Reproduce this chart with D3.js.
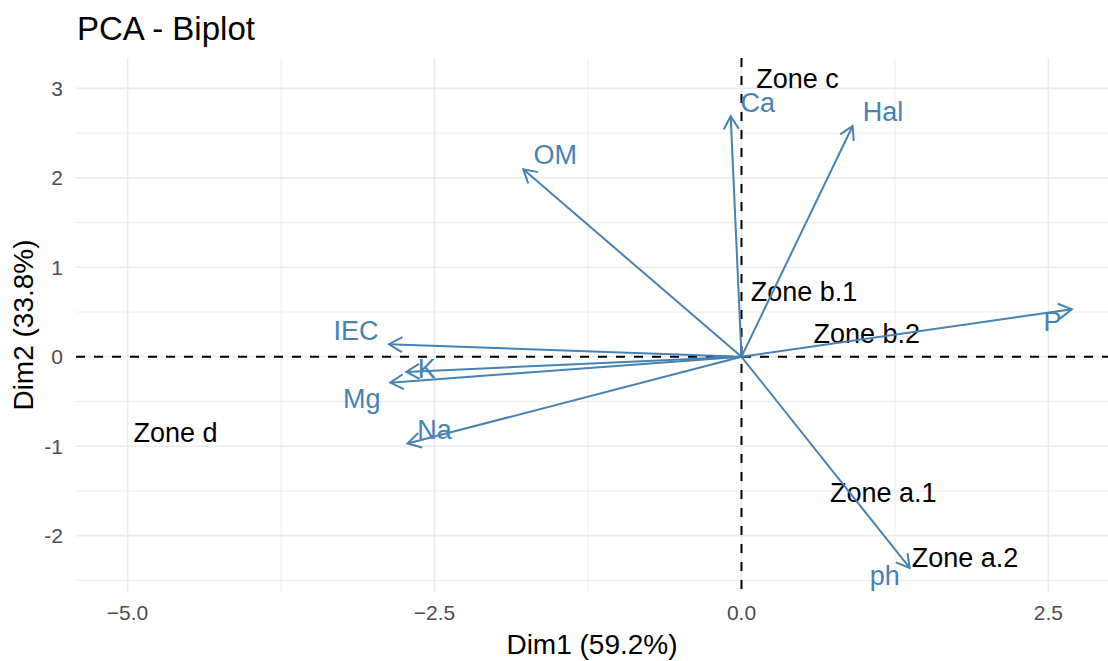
<!DOCTYPE html>
<html>
<head>
<meta charset="utf-8">
<script src="https://cdn.jsdelivr.net/npm/d3@7"></script>
<style>
  body { margin: 0; background: #fff; }
  svg { font-family: "Liberation Sans", Arial, sans-serif; }
  .grid-major { stroke: #ebebeb; stroke-width: 1.6px; }
  .grid-minor { stroke: #ebebeb; stroke-width: 0.9px; }
  .tick-label { fill: #4d4d4d; font-size: 21px; }
</style>
</head>
<body>
<div id="chart"></div>
<script>
// variables (arrows)
var varNames = ['Ca', 'Hal', 'OM', 'IEC', 'K', 'Mg', 'Na', 'P', 'ph'];
var varDim1  = [-0.088, 0.905, -1.777, -2.87, -2.73, -2.86, -2.72, 2.69, 1.37];
var varDim2  = [2.69, 2.58, 2.095, 0.14, -0.17, -0.29, -0.97, 0.53, -2.36];
// where the variable labels sit (data units, after repel)
var varLabX  = [0.133, 1.152, -1.516, -3.14, -2.563, -3.093, -2.50, 2.533, 1.166];
var varLabY  = [2.85, 2.743, 2.264, 0.30, -0.134, -0.469, -0.81, 0.397, -2.447];

// individuals (zones)
var zoneNames = ['Zone c', 'Zone b.1', 'Zone b.2', 'Zone a.1', 'Zone a.2', 'Zone d'];
var zoneDim1  = [0.456, 0.509, 1.02, 1.155, 1.82, -4.61];
var zoneDim2  = [3.11, 0.735, 0.266, -1.51, -2.237, -0.84];

var xTicks = [-5.0, -2.5, 0.0, 2.5];
var xMinor = [-3.75, -1.25, 1.25];
var yTicks = [-2, -1, 0, 1, 2, 3];
var yMinor = [-2.5, -1.5, -0.5, 0.5, 1.5, 2.5];

var width = 1108, height = 661;
var margin = {t:58, r:0, b:69, l:76};
var plotWidth = width - margin.l - margin.r,
    plotHeight = height - margin.t - margin.b;

var x = d3.scaleLinear().domain([-5.42, 2.985]).range([0, plotWidth]);
var y = d3.scaleLinear().domain([-2.63, 3.34]).range([plotHeight, 0]);

var svg = d3.select('#chart')
    .append('svg')
    .attr('width', width)
    .attr('height', height);

svg.append('text')
    .attr('x', 77)
    .attr('y', 40)
    .style('font-size', '33px')
    .style('fill', '#000')
    .text('PCA - Biplot');

var plot = svg.append('g')
    .attr('transform', 'translate(' + margin.l + ',' + margin.t + ')');

// grid
plot.selectAll('.gx-minor').data(xMinor).enter().append('line')
    .attr('class', 'grid-minor')
    .attr('x1', function(d){ return x(d); }).attr('x2', function(d){ return x(d); })
    .attr('y1', 0).attr('y2', plotHeight);
plot.selectAll('.gy-minor').data(yMinor).enter().append('line')
    .attr('class', 'grid-minor')
    .attr('y1', function(d){ return y(d); }).attr('y2', function(d){ return y(d); })
    .attr('x1', 0).attr('x2', plotWidth);
plot.selectAll('.gx-major').data(xTicks).enter().append('line')
    .attr('class', 'grid-major')
    .attr('x1', function(d){ return x(d); }).attr('x2', function(d){ return x(d); })
    .attr('y1', 0).attr('y2', plotHeight);
plot.selectAll('.gy-major').data(yTicks).enter().append('line')
    .attr('class', 'grid-major')
    .attr('y1', function(d){ return y(d); }).attr('y2', function(d){ return y(d); })
    .attr('x1', 0).attr('x2', plotWidth);

// tick labels
plot.selectAll('.xl').data(xTicks).enter().append('text')
    .attr('class', 'tick-label')
    .attr('x', function(d){ return x(d); })
    .attr('y', plotHeight + 28)
    .attr('text-anchor', 'middle')
    .text(function(d){ return d3.format('.1f')(d); });
plot.selectAll('.yl').data(yTicks).enter().append('text')
    .attr('class', 'tick-label')
    .attr('x', -13)
    .attr('y', function(d){ return y(d); })
    .attr('dy', '0.36em')
    .attr('text-anchor', 'end')
    .text(function(d){ return d; });

// dashed zero lines
plot.append('line')
    .attr('x1', 0).attr('x2', plotWidth)
    .attr('y1', y(0)).attr('y2', y(0))
    .style('stroke', '#000').style('stroke-width', 2).style('stroke-dasharray', '9,9');
plot.append('line')
    .attr('x1', x(0)).attr('x2', x(0))
    .attr('y1', 0).attr('y2', plotHeight)
    .style('stroke', '#000').style('stroke-width', 2).style('stroke-dasharray', '9,9');

// zone labels
plot.selectAll('.zone').data(zoneNames).enter().append('text')
    .attr('x', function(d, i){ return x(zoneDim1[i]); })
    .attr('y', function(d, i){ return y(zoneDim2[i]); })
    .attr('dy', '0.36em')
    .attr('text-anchor', 'middle')
    .style('font-size', '27px')
    .style('fill', '#000')
    .text(function(d){ return d; });

// arrows
var steel = '#4682B4';
var headLen = 15, headAng = Math.PI / 6;
varNames.forEach(function(name, i){
    var x0 = x(0), y0 = y(0), x1 = x(varDim1[i]), y1 = y(varDim2[i]);
    var ang = Math.atan2(y1 - y0, x1 - x0);
    plot.append('line')
        .attr('x1', x0).attr('y1', y0).attr('x2', x1).attr('y2', y1)
        .style('stroke', steel).style('stroke-width', 2);
    var p = d3.path();
    p.moveTo(x1 - headLen * Math.cos(ang - headAng), y1 - headLen * Math.sin(ang - headAng));
    p.lineTo(x1, y1);
    p.lineTo(x1 - headLen * Math.cos(ang + headAng), y1 - headLen * Math.sin(ang + headAng));
    plot.append('path')
        .attr('d', p.toString())
        .style('fill', 'none').style('stroke', steel).style('stroke-width', 2);
});

plot.selectAll('.vlab').data(varNames).enter().append('text')
    .attr('x', function(d, i){ return x(varLabX[i]); })
    .attr('y', function(d, i){ return y(varLabY[i]); })
    .attr('dy', '0.36em')
    .attr('text-anchor', 'middle')
    .style('font-size', '27px')
    .style('fill', steel)
    .text(function(d){ return d; });

// axis titles
svg.append('text')
    .attr('x', margin.l + plotWidth / 2)
    .attr('y', 654)
    .attr('text-anchor', 'middle')
    .style('font-size', '28px')
    .text('Dim1 (59.2%)');
svg.append('text')
    .attr('transform', 'translate(33,' + (margin.t + plotHeight / 2) + ') rotate(-90)')
    .attr('text-anchor', 'middle')
    .style('font-size', '28px')
    .text('Dim2 (33.8%)');
</script>
</body>
</html>
